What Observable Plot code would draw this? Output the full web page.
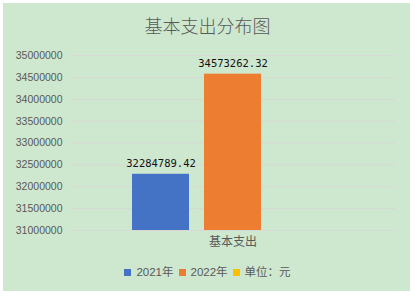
<!DOCTYPE html>
<html><head><meta charset="utf-8">
<script src="https://cdn.jsdelivr.net/npm/d3@7"></script>
<script src="https://cdn.jsdelivr.net/npm/@observablehq/plot@0.6"></script>
<style>
body{margin:0;background:#fff;width:415px;height:297px;overflow:hidden;position:relative;font-family:"Liberation Sans",Arial,sans-serif;}
#bg{position:absolute;left:3px;top:3px;width:407px;height:288px;background:#cee7cf;}
#title{position:absolute;left:0;top:12px;width:415px;text-align:center;font-family:"Noto Sans CJK SC",sans-serif;font-weight:300;font-size:18px;line-height:26px;color:#595959;}
#chart{position:absolute;left:0;top:45px;}
#legend{position:absolute;left:0;top:264px;width:415px;display:flex;justify-content:center;align-items:center;font-size:11.5px;line-height:16px;color:#595959;font-family:"Liberation Sans","Noto Sans CJK SC",sans-serif;}
.item{display:flex;align-items:center;margin:0 2.5px;}
.sw{width:7px;height:7px;margin-right:5px;}
</style>
</head><body>
<div id="bg"></div>
<div id="title"></div>
<div id="chart"></div>
<div id="legend"></div>
<script>
const titleText = "基本支出分布图";
const categories = ["基本支出"];
const series = ["2021年", "2022年", "单位：元"];
const values = [32284789.42, 34573262.32, null];
const colors = ["#4472c4", "#ed7d31", "#ffc000"];
const yTicks = [31000000, 31500000, 32000000, 32500000, 33000000, 33500000, 34000000, 34500000, 35000000];

document.getElementById("title").textContent = titleText;

const data = series.map((s, i) => ({category: categories[0], series: s, value: values[i]}));
const shown = data.filter(d => d.value != null);
const yMin = yTicks[0];

const chart = Plot.plot({
  width: 415, height: 210,
  marginLeft: 70, marginRight: 20, marginTop: 10, marginBottom: 25,
  style: {background: "transparent", color: "#595959", fontSize: "10.5px", fontFamily: "Liberation Sans, Arial, sans-serif"},
  fx: {domain: categories, padding: 0, label: null},
  x: {domain: series, paddingInner: 0.2083, paddingOuter: 0.861, axis: null},
  y: {domain: [yTicks[0], yTicks[yTicks.length - 1]]},
  color: {domain: series, range: colors},
  marks: [
    Plot.gridY(yTicks, {stroke: "#d6d9d4", strokeOpacity: 1}),
    Plot.axisY(yTicks, {tickSize: 0, tickPadding: 8, tickFormat: d3.format("d"), label: null}),
    Plot.axisFx({anchor: "bottom", tickSize: 0, tickPadding: 7, label: null, fontSize: 12, fontFamily: "Noto Sans CJK SC"}),
    Plot.barY(shown, {fx: "category", x: "series", y1: yMin, y2: "value", fill: "series"}),
    Plot.text(shown, {fx: "category", x: "series", y: "value", text: d => d3.format(".2f")(d.value), lineAnchor: "bottom", dy: -7, fill: "#111", fontFamily: "DejaVu Sans Mono", fontSize: 10.5})
  ]
});
document.getElementById("chart").appendChild(chart);

const legend = document.getElementById("legend");
series.forEach((s, i) => {
  const item = document.createElement("div");
  item.className = "item";
  const sw = document.createElement("span");
  sw.className = "sw";
  sw.style.background = colors[i];
  const t = document.createElement("span");
  t.textContent = s;
  item.appendChild(sw); item.appendChild(t);
  legend.appendChild(item);
});
</script>
</body></html>
